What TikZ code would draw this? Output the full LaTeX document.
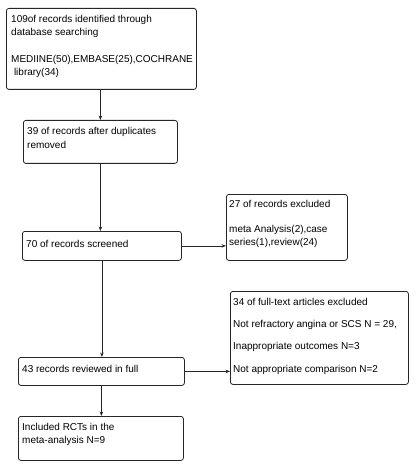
\documentclass[tikz,border=0pt]{standalone}
\usepackage{fontspec}
\setmainfont{Liberation Sans}
\usetikzlibrary{arrows.meta}
\begin{document}
\begin{tikzpicture}[x=1pt,y=-1pt,
  box/.style={draw=black!85, rounded corners=2.5pt, line width=0.8pt, anchor=north west, inner sep=0pt},
  txt/.style={anchor=base west, inner sep=0pt, font=\fontsize{10}{13}\selectfont},
  arr/.style={-{Stealth[length=4.5pt,width=3.5pt]}, line width=0.7pt, draw=black!85}]
\useasboundingbox (0,0) rectangle (415,470);
% boxes
\node[box, minimum width=190, minimum height=81] (b1) at (6,8) {};
\node[box, minimum width=154, minimum height=43] (b2) at (23,120) {};
\node[box, minimum width=159, minimum height=29] (b3) at (22,231) {};
\node[box, minimum width=121, minimum height=66] (b4) at (226,194) {};
\node[box, minimum width=178, minimum height=93] (b5) at (230,291) {};
\node[box, minimum width=166, minimum height=28] (b6) at (18,357) {};
\node[box, minimum width=165, minimum height=44] (b7) at (18,416) {};
% texts
\node[txt] (t1) at (11,23) {\parbox[t]{188pt}{\raggedright 109of records identified through\\database searching\\[14pt]MEDIINE(50),EMBASE(25),COCHRANE\\\hspace*{2.8pt}library(34)}};
\node[txt] (t2) at (27,135) {\parbox[t]{150pt}{\raggedright 39 of records after duplicates\\[1pt]removed}};
\node[txt] (t3) at (26,247) {70 of records screened};
\node[txt] (t4) at (229,207) {\parbox[t]{118pt}{\raggedright 27 of records excluded\\[12pt]meta Analysis(2),case\\series(1),review(24)}};
\node[txt] (t5) at (233,305) {\parbox[t]{175pt}{\raggedright 34 of full-text articles excluded\\[9.3pt]Not refractory angina or SCS N = 29,\\[9.3pt]Inappropriate outcomes N=3\\[9.7pt]Not appropriate comparison N=2}};
\node[txt] (t6) at (22,372) {43 records reviewed in full};
\node[txt] (t7) at (22,430) {\parbox[t]{160pt}{\raggedright Included RCTs in the\\meta-analysis N=9}};
% connectors
\draw[arr] (b2.north |- b1.south) -- (b2.north);
\draw[arr] (b2.south) -- (b2.south |- b3.north);
\draw[arr] (b3.east) -- (b3.east -| b4.west);
\draw[arr] (b3.south) -- (b3.south |- b6.north);
\draw[arr] (b6.east) -- (b6.east -| b5.west);
\draw[arr] (b6.south) -- (b6.south |- b7.north);
\end{tikzpicture}
\end{document}
